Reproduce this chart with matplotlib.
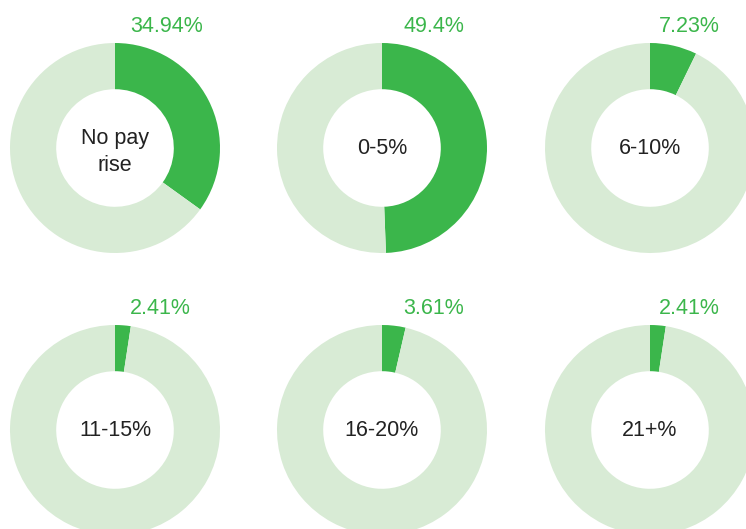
import matplotlib.pyplot as plt

plt.rcParams['font.family'] = ['Liberation Sans', 'DejaVu Sans']

# Data
categories = ['No pay\nrise', '0-5%', '6-10%', '11-15%', '16-20%', '21+%']
percents = [34.94, 49.4, 7.23, 2.41, 3.61, 2.41]
labels = ['34.94%', '49.4%', '7.23%', '2.41%', '3.61%', '2.41%']

GREEN = '#3bb64b'
LIGHT = '#d8ebd5'

W, H = 746, 529
fig = plt.figure(figsize=(W / 100, H / 100), dpi=100)
ax = fig.add_axes([0, 0, 1, 1])

col_x = [115, 382, 650]
label_dx = [15, 21, 9]  # label offset from ring centre, per column
row_y = [148, 430]
R = 105

for i, (cat, p, lab) in enumerate(zip(categories, percents, labels)):
    cx = col_x[i % 3]
    cy = H - row_y[i // 3]
    ax.pie([p, 100 - p], colors=[GREEN, LIGHT], startangle=90, counterclock=False,
           center=(cx, cy), radius=R,
           wedgeprops=dict(width=R * 0.44, linewidth=0))
    dy = -4 if '\n' in cat else -1
    ax.text(cx, cy + dy, cat, ha='center', va='center', fontsize=15.5,
            color='#222222', linespacing=1.4)
    ax.text(cx + label_dx[i % 3], cy + R + 17, lab, ha='left', va='center',
            fontsize=15.5, color=GREEN)

ax.set_xlim(0, W)
ax.set_ylim(0, H)
ax.set_aspect('equal')
ax.set_axis_off()

fig.savefig('out.png', dpi=100)
